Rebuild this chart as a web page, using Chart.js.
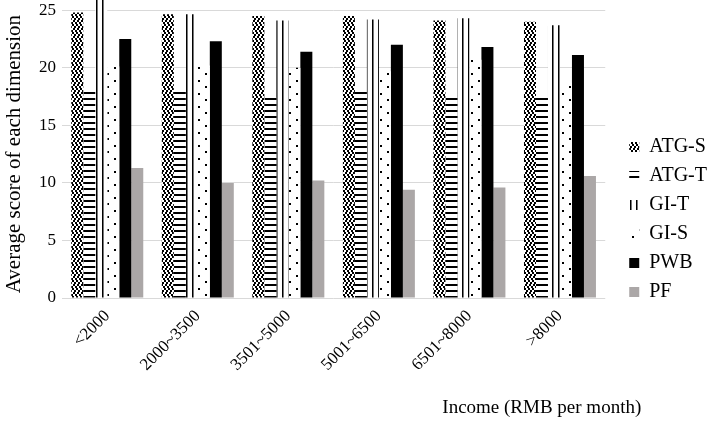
<!DOCTYPE html>
<html lang="en">
<head>
  <meta charset="UTF-8" />
  <title>Average score by income</title>
  <script src="https://cdn.jsdelivr.net/npm/chart.js"></script>
  <style>
    html, body {
      margin: 0;
      padding: 0;
      background: #fff;
    }
    .chart-box {
      width: 708px;
      height: 421px;
    }
  </style>
</head>
<body>
  <div class="chart-box">
    <canvas id="incomeChart"></canvas>
  </div>

  <script>
    // data
    const incomes = ['<2000', '2000~3500', '3501~5000', '5001~6500', '6501~8000', '>8000'];
    const atgS = [24.8, 24.65, 24.5, 24.5, 24.1, 24.0];
    const atgT = [17.9, 18.0, 17.4, 17.9, 17.4, 17.4];
    const giT  = [26.0, 24.65, 24.1, 24.2, 24.3, 23.7];
    const giS  = [20.1, 20.2, 20.0, 19.7, 20.7, 18.7];
    const pwb  = [22.5, 22.3, 21.4, 22.0, 21.8, 21.1];
    const pf   = [11.3, 10.0, 10.2, 9.4, 9.6, 10.6];
    const yTicks = [0, 5, 10, 15, 20, 25];

    const yTitle = 'Average score of each dimension';
    const xTitle = 'Income (RMB per month)';
    const serif = '"Liberation Serif", "Times New Roman", serif';

    // small tiles used as fill patterns
    function makePattern(w, h, draw) {
      const tile = document.createElement('canvas');
      tile.width = w;
      tile.height = h;
      const g = tile.getContext('2d');
      g.fillStyle = '#fff';
      g.fillRect(0, 0, w, h);
      g.fillStyle = '#000';
      draw(g);
      return g.createPattern(tile, 'repeat');
    }

    // zig-zag of small squares
    const confetti = makePattern(4, 8, g => {
      g.fillRect(0, 0, 2, 2);
      g.fillRect(2, 2, 2, 2);
      g.fillRect(1, 4, 2, 2);
      g.fillRect(3, 6, 1, 2);
      g.fillRect(0, 6, 1, 2);
    });
    const hLines = makePattern(6, 6, g => {
      g.fillRect(0, 2, 6, 2);
    });
    const vLines = makePattern(6, 6, g => {
      g.fillRect(0, 0, 1, 6);
      g.fillStyle = '#777';
      g.fillRect(1, 0, 1, 6);
    });
    const dots = makePattern(14, 13, g => {
      g.fillRect(2, 2, 2, 2);
      g.fillRect(9, 8, 2, 2);
    });

    // x title sits right of centre, below the rotated labels
    const xTitlePlugin = {
      id: 'xTitle',
      afterDraw(chart) {
        const { ctx, chartArea } = chart;
        ctx.save();
        ctx.font = '19px ' + serif;
        ctx.fillStyle = '#000';
        ctx.textAlign = 'right';
        ctx.textBaseline = 'middle';
        ctx.fillText(xTitle, chartArea.right + 36, 408);
        ctx.restore();
      }
    };

    // push the legend a bit right and down, like the original
    const legendShift = {
      id: 'legendShift',
      afterLayout(chart) {
        const lg = chart.legend;
        if (!lg) return;
        lg.left += 15;
        lg.right += 15;
        lg.top += 9;
        lg.bottom += 9;
      }
    };

    const bar = (label, data, fill, extra) => Object.assign({
      label: label,
      data: data,
      backgroundColor: fill,
      borderWidth: 0,
      barPercentage: 1,
      categoryPercentage: 0.795
    }, extra || {});

    new Chart(document.getElementById('incomeChart'), {
      type: 'bar',
      data: {
        labels: incomes,
        datasets: [
          bar('ATG-S', atgS, confetti),
          bar('ATG-T', atgT, hLines),
          bar('GI-T', giT, vLines, { clip: false }),
          bar('GI-S', giS, dots),
          bar('PWB', pwb, '#000'),
          bar('PF', pf, '#aba7a7')
        ]
      },
      options: {
        responsive: true,
        maintainAspectRatio: false,
        animation: false,
        layout: { padding: { top: 0, right: 6, bottom: 0, left: 0 } },
        scales: {
          x: {
            grid: { display: false },
            border: { display: false },
            ticks: {
              color: '#000',
              font: { family: serif, size: 17 },
              minRotation: 45,
              maxRotation: 45,
              padding: 0
            },
            afterFit: s => { s.height = 123; }
          },
          y: {
            min: 0,
            max: 25,
            grid: { color: '#d9d9d9', drawTicks: true, tickLength: 6, tickColor: 'rgba(0,0,0,0)' },
            border: { display: false },
            ticks: {
              color: '#000',
              font: { family: serif, size: 17 },
              padding: 0
            },
            afterBuildTicks: s => { s.ticks = yTicks.map(v => ({ value: v })); },
            afterFit: s => { s.width = 62; },
            title: {
              display: true,
              text: yTitle,
              color: '#000',
              font: { family: serif, size: 21 },
              padding: { top: 2, bottom: 0 }
            }
          }
        },
        plugins: {
          legend: {
            position: 'right',
            labels: {
              color: '#000',
              font: { family: serif, size: 20 },
              boxWidth: 10,
              boxHeight: 10,
              padding: 9
            }
          },
          tooltip: { enabled: false }
        }
      },
      plugins: [xTitlePlugin, legendShift]
    });
  </script>
</body>
</html>
